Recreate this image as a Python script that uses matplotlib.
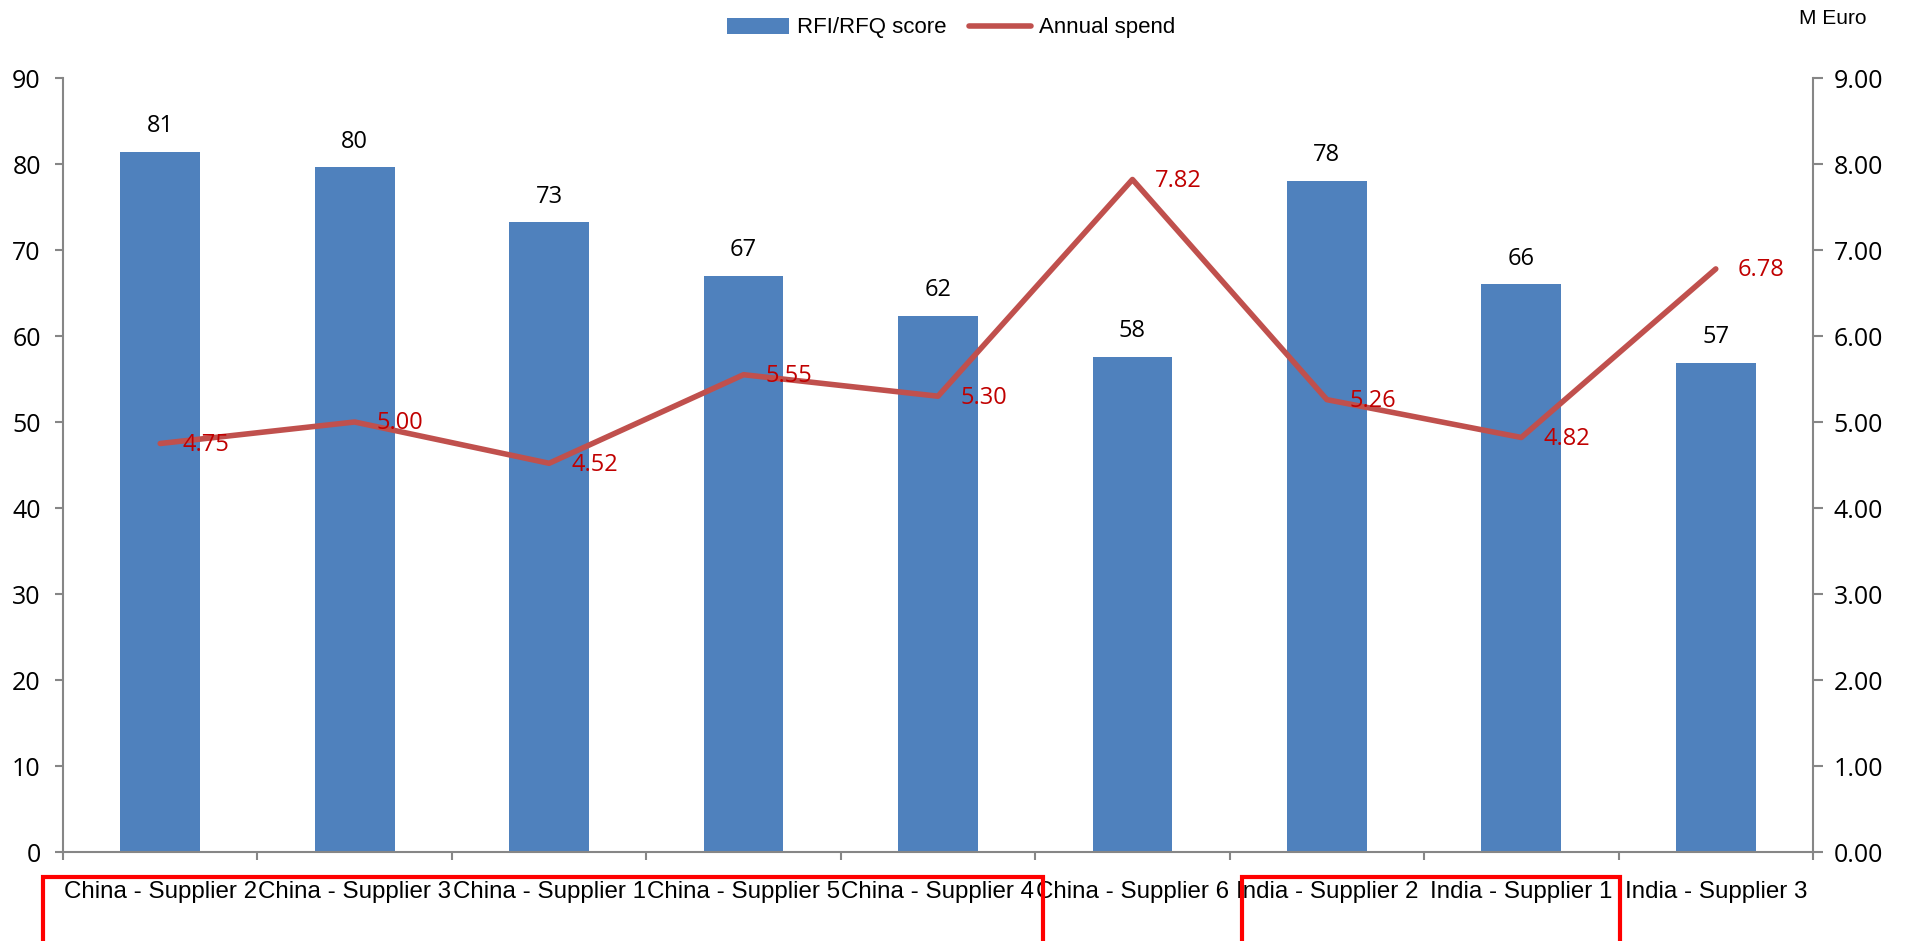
import matplotlib
matplotlib.use("Agg")
import matplotlib.pyplot as plt
from matplotlib.patches import Rectangle
from matplotlib.ticker import FormatStrFormatter, MultipleLocator

categories = ["China - Supplier 2", "China - Supplier 3", "China - Supplier 1",
              "China - Supplier 5", "China - Supplier 4", "China - Supplier 6",
              "India - Supplier 2", "India - Supplier 1", "India - Supplier 3"]
scores = [81.4, 79.6, 73.2, 67.0, 62.3, 57.6, 78.0, 66.0, 56.9]
spend = [4.75, 5.00, 4.52, 5.55, 5.30, 7.82, 5.26, 4.82, 6.78]

BAR = "#4F81BD"
LINE = "#C0504D"
LBL_RED = "#C00000"
AX = "#868686"
NUMFONT = "Open Sans"

W, H = 1906, 941
fig = plt.figure(figsize=(W / 100, H / 100), dpi=100)
ax = fig.add_axes([63 / W, 1 - 852 / H, (1813 - 63) / W, (852 - 78) / H])
ax2 = ax.twinx()

x = list(range(len(categories)))
bars = ax.bar(x, scores, width=0.41, color=BAR, zorder=2)
for xi, v in zip(x, scores):
    ax.annotate(f"{v:.0f}", (xi, v), xytext=(0, 10), textcoords="offset points",
                ha="center", va="bottom", fontsize=17, color="black",
                family=NUMFONT)

line, = ax2.plot(x, spend, color=LINE, lw=4.0, solid_capstyle="round", zorder=3)
for xi, v in zip(x, spend):
    ax2.annotate(f"{v:.2f}", (xi, v), xytext=(16, -1), textcoords="offset points",
                 ha="left", va="center", fontsize=17, color=LBL_RED,
                 family=NUMFONT)

ax.set_xlim(-0.5, len(categories) - 0.5)
ax.set_ylim(0, 90)
ax2.set_ylim(0, 9)
ax.yaxis.set_major_locator(MultipleLocator(10))
ax2.yaxis.set_major_locator(MultipleLocator(1))
ax2.yaxis.set_major_formatter(FormatStrFormatter("%.2f"))

for a in (ax, ax2):
    for s in a.spines.values():
        s.set_visible(False)
ax.spines["left"].set_visible(True)
ax.spines["bottom"].set_visible(True)
ax2.spines["right"].set_visible(True)
for s in (ax.spines["left"], ax.spines["bottom"], ax2.spines["right"]):
    s.set_color(AX)
    s.set_linewidth(1.5)

ax.set_xticks(x)
ax.set_xticklabels(categories, fontsize=17.4, family="Liberation Sans")
ax.tick_params(axis="x", length=0, pad=21)
ax.set_xticks([i - 0.5 for i in range(len(categories) + 1)], minor=True)
ax.tick_params(axis="x", which="minor", length=6, width=1.5, color=AX, direction="out")
ax.tick_params(axis="y", length=6, width=1.5, color=AX, pad=10, labelsize=18)
ax2.tick_params(axis="y", length=7, width=1.5, color=AX, pad=8, labelsize=18)
for lab in ax.get_yticklabels() + ax2.get_yticklabels():
    lab.set_family(NUMFONT)

fig.legend([bars, line], ["RFI/RFQ score", "Annual spend"], loc="center",
           bbox_to_anchor=(951 / W, 1 - 28 / H), ncol=2, frameon=False,
           prop={"family": "Liberation Sans", "size": 16},
           handlelength=2.8, handletextpad=0.35, columnspacing=1.0)

fig.text(1833 / W, 1 - 19 / H, "M Euro", ha="center", va="center",
         fontsize=15, family="Liberation Sans")

for x0, x1 in [(43, 1043), (1242, 1620)]:
    fig.patches.append(Rectangle((x0 / W, -0.02), (x1 - x0) / W, 0.02 + 1 - 877 / H,
                                 transform=fig.transFigure, fill=False,
                                 edgecolor="#FF0000", lw=3.0, zorder=5))

fig.savefig("out.png", dpi=100)
